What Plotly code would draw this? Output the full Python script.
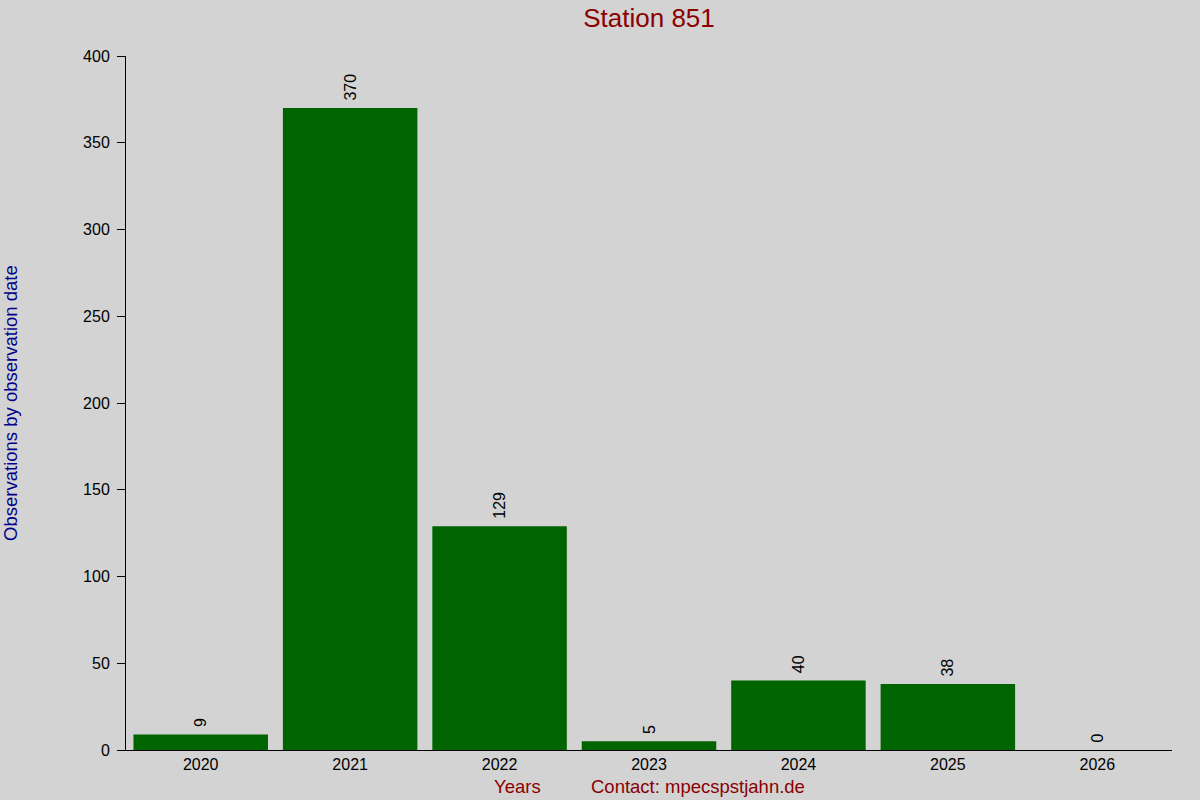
import plotly.graph_objects as go

# data
years = ['2020', '2021', '2022', '2023', '2024', '2025', '2026']
observations = [9, 370, 129, 5, 40, 38, 0]
y_ticks = [0, 50, 100, 150, 200, 250, 300, 350, 400]

bg = '#d3d3d3'
font = 'Liberation Sans, Arial, sans-serif'

fig = go.Figure()
fig.add_trace(go.Bar(x=years, y=observations,
                     marker=dict(color='#006400', line=dict(width=0)),
                     width=0.9,
                     # leading space gives a little gap above the bar
                     text=[' ' + str(v) for v in observations],
                     textposition='outside',
                     textangle=-90,
                     textfont=dict(size=16, color='black', family=font),
                     cliponaxis=False,
                     showlegend=False))

fig.update_layout(
    width=1200, height=800,
    paper_bgcolor=bg, plot_bgcolor=bg,
    margin=dict(l=126, r=28, t=56, b=50),
    font=dict(family=font, size=16, color='black'),
    bargap=0.1,
    title=dict(text='Station 851', x=0.5, xref='paper', y=1 - 18/800,
               yref='container', xanchor='center', yanchor='middle',
               font=dict(size=26, color='#8b0000', family=font)),
    xaxis=dict(type='category', range=[-0.5, 6.5], showgrid=False,
               showline=True, linecolor='black', linewidth=1,
               ticks='', tickfont=dict(size=16)),
    xaxis2=dict(overlaying='x', side='top', anchor='y', range=[-0.5, 6.5],
                tickvals=list(range(len(years))), showticklabels=False,
                ticks='outside', ticklen=1, tickwidth=1, tickcolor='black',
                showgrid=False, showline=False, zeroline=False),
    yaxis=dict(range=[0, 400], tickvals=y_ticks, showgrid=False,
               zeroline=False, showline=True, linecolor='black', linewidth=1,
               ticks='outside', ticklen=8, tickcolor='black',
               ticklabelstandoff=4, tickfont=dict(size=16)),
    annotations=[
        dict(text='Observations by observation date', textangle=-90,
             x=-0.111, xref='paper', y=0.5, yref='paper',
             xanchor='center', yanchor='middle', showarrow=False,
             font=dict(size=18.5, color='#00008b', family=font)),
        dict(text='Years', x=(517 - 126) / 1046, xref='paper',
             y=-36 / 694, yref='paper', xanchor='center', yanchor='middle',
             showarrow=False, font=dict(size=18.5, color='#8b0000', family=font)),
        dict(text='Contact: mpecspstjahn.de', x=(698 - 126) / 1046,
             xref='paper', y=-36 / 694, yref='paper', xanchor='center',
             yanchor='middle', showarrow=False,
             font=dict(size=18.5, color='#8b0000', family=font)),
    ],
)

fig.write_html('out.html', config={'displayModeBar': False},
               post_script="document.body.style.margin='0';")
